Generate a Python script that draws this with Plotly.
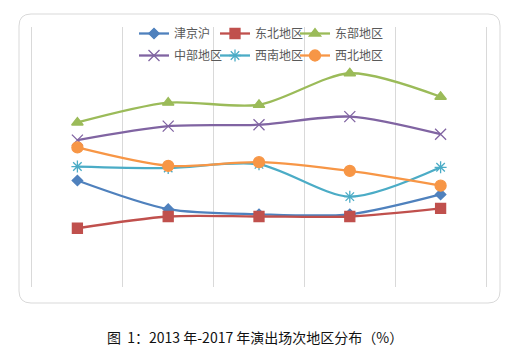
import plotly.graph_objects as go

years = ["2013", "2014", "2015", "2016", "2017"]
names = ["津京沪", "东北地区", "东部地区", "中部地区", "西南地区", "西北地区"]
jjh = [14.5, 10.6, 9.9, 9.9, 12.6]
dongbei = [8.0, 9.6, 9.6, 9.6, 10.7]
dongbu = [22.4, 25.1, 24.8, 29.1, 25.9]
zhongbu = [20.0, 21.9, 22.1, 23.2, 20.8]
xinan = [16.4, 16.2, 16.7, 12.3, 16.3]
xibei = [19.0, 16.5, 17.0, 15.8, 13.8]
series = [jjh, dongbei, dongbu, zhongbu, xinan, xibei]

colors = ["#4f81bd", "#c0504d", "#9bbb59", "#8064a2", "#4bacc6", "#f79646"]
symbols = ["diamond", "square", "triangle-up", "x-thin-open", "asterisk-open", "circle"]
sizes = [8, 10, 10, 11, 10, 11]

# page body has an 8px default margin; work in reference-pixel coords and compensate
OFF = 8
W, H = 526 - OFF, 358 - OFF
L, R, T, B = 32, 486, 27, 287   # plot area in reference pixels

def px(x):
    return (x - L) / (R - L)

def py(y):
    return (B - y) / (B - T)

# legend positions (reference pixel: line start x, row center y)
leg_x = [144, 225, 305, 144, 225, 305]
leg_y = [34, 34, 34, 56, 56, 56]
leg_ids = ["legend", "legend2", "legend3", "legend4", "legend5", "legend6"]

fig = go.Figure()
for nm, vals, c, s, sz, lg in zip(names, series, colors, symbols, sizes, leg_ids):
    fig.add_trace(go.Scatter(
        x=years, y=vals, name=nm, mode="lines+markers",
        line=dict(color=c, width=2.3, shape="spline", smoothing=0.8),
        marker=dict(color=c, symbol=s, size=sz, line=dict(color=c, width=1.3)),
        legend=lg,
    ))

# rounded chart border
x0, x1, y0, y1, r = 19, 500, 14, 303, 12
path = (f"M {px(x0+r)},{py(y0)} L {px(x1-r)},{py(y0)} Q {px(x1)},{py(y0)} {px(x1)},{py(y0+r)} "
        f"L {px(x1)},{py(y1-r)} Q {px(x1)},{py(y1)} {px(x1-r)},{py(y1)} "
        f"L {px(x0+r)},{py(y1)} Q {px(x0)},{py(y1)} {px(x0)},{py(y1-r)} "
        f"L {px(x0)},{py(y0+r)} Q {px(x0)},{py(y0)} {px(x0+r)},{py(y0)} Z")

fig.add_shape(type="path", path=path, xref="paper", yref="paper",
              line=dict(color="#d9d9d9", width=1), layer="below")

fig.add_annotation(text="图  1：2013 年-2017 年演出场次地区分布（%）",
                   x=px(255), y=py(337), xref="paper", yref="paper",
                   showarrow=False, xanchor="center", yanchor="middle",
                   font=dict(size=14, color="#111111", family="Noto Sans CJK SC"))

legfont = dict(size=12, color="#595959", family="Noto Sans CJK SC")
layout_legends = {}
for lid, lx, ly in zip(leg_ids, leg_x, leg_y):
    layout_legends[lid] = dict(
        orientation="h", x=px(lx - 10), y=py(ly - 15), xanchor="left", yanchor="top",
        font=legfont, bgcolor="rgba(0,0,0,0)", itemwidth=30, tracegroupgap=0)

fig.update_layout(
    width=W, height=H,
    margin=dict(l=L - OFF, r=W - (R - OFF), t=T - OFF, b=H - (B - OFF), autoexpand=False),
    paper_bgcolor="white", plot_bgcolor="white",
    font=dict(family="Noto Sans CJK SC"),
    showlegend=True,
    xaxis=dict(type="category", range=[-0.5, 4.5], tickson="boundaries",
               showgrid=True, gridcolor="#d9d9d9", gridwidth=1,
               showticklabels=False, ticks="", showline=False, zeroline=False),
    yaxis=dict(range=[0, 35.4], showgrid=False, showticklabels=False,
               ticks="", showline=True, mirror=True, linecolor="#d9d9d9",
               linewidth=1, zeroline=False),
    **layout_legends,
)

fig.write_html("out.html")
